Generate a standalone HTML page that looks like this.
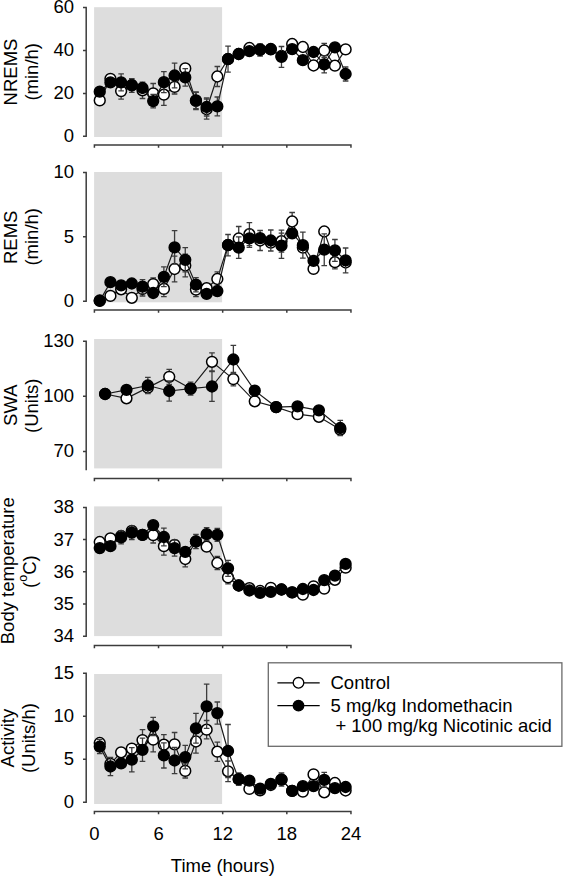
<!DOCTYPE html>
<html><head><meta charset="utf-8"><style>
html,body{margin:0;padding:0;background:#fff;}
svg{display:block;}
.t{font-family:"Liberation Sans",sans-serif;font-size:18.5px;fill:#000;}
</style></head><body>
<svg width="563" height="877" viewBox="0 0 563 877">
<rect x="94.1" y="7.2" width="128" height="129.8" fill="#dddddd"/>
<rect x="94.1" y="172" width="128" height="130.3" fill="#dddddd"/>
<rect x="94.1" y="339" width="128" height="129.4" fill="#dddddd"/>
<rect x="94.1" y="506.4" width="128" height="129.7" fill="#dddddd"/>
<rect x="94.1" y="674" width="128" height="130" fill="#dddddd"/>
<path d="M86.2 7.5V136.3M83 7.5H86.9M83 50.4H86.9M83 93.4H86.9M83 136.3H86.9" stroke="#3c3c3c" stroke-width="1.5" fill="none"/>
<path d="M94.4 145H350.96M94.4 144.3V147.8M158.54 144.3V147.8M222.68 144.3V147.8M286.82 144.3V147.8M350.96 144.3V147.8" stroke="#3c3c3c" stroke-width="1.5" fill="none"/>
<text x="74.0" y="13.4" text-anchor="end" class="t">60</text>
<text x="74.0" y="56.3" text-anchor="end" class="t">40</text>
<text x="74.0" y="99.3" text-anchor="end" class="t">20</text>
<text x="74.0" y="142.2" text-anchor="end" class="t">0</text>
<text transform="translate(16.7 72) rotate(-90)" text-anchor="middle" class="t">NREMS</text>
<text transform="translate(37.6 71.8) rotate(-90)" text-anchor="middle" class="t">(min/h)</text>
<path d="M86.2 172.4V301.3M83 172.4H86.9M83 236.8H86.9M83 301.3H86.9" stroke="#3c3c3c" stroke-width="1.5" fill="none"/>
<path d="M94.4 309.9H350.96M94.4 309.2V312.7M158.54 309.2V312.7M222.68 309.2V312.7M286.82 309.2V312.7M350.96 309.2V312.7" stroke="#3c3c3c" stroke-width="1.5" fill="none"/>
<text x="74.0" y="178.3" text-anchor="end" class="t">10</text>
<text x="74.0" y="242.7" text-anchor="end" class="t">5</text>
<text x="74.0" y="307.2" text-anchor="end" class="t">0</text>
<text transform="translate(16.8 237.3) rotate(-90)" text-anchor="middle" class="t">REMS</text>
<text transform="translate(37.6 236.8) rotate(-90)" text-anchor="middle" class="t">(min/h)</text>
<path d="M86.2 341.2V470.3M83 341.2H86.9M83 396.3H86.9M83 451.4H86.9" stroke="#3c3c3c" stroke-width="1.5" fill="none"/>
<path d="M94.4 478.4H350.96M94.4 477.7V481.2M158.54 477.7V481.2M222.68 477.7V481.2M286.82 477.7V481.2M350.96 477.7V481.2" stroke="#3c3c3c" stroke-width="1.5" fill="none"/>
<text x="74.0" y="347.1" text-anchor="end" class="t">130</text>
<text x="74.0" y="402.2" text-anchor="end" class="t">100</text>
<text x="74.0" y="457.3" text-anchor="end" class="t">70</text>
<text transform="translate(17.2 405.2) rotate(-90)" text-anchor="middle" class="t">SWA</text>
<text transform="translate(38.2 405.8) rotate(-90)" text-anchor="middle" class="t">(Units)</text>
<path d="M86.2 507.4V636.3M83 507.4H86.9M83 539.6H86.9M83 571.8H86.9M83 604H86.9M83 636.3H86.9" stroke="#3c3c3c" stroke-width="1.5" fill="none"/>
<path d="M94.4 645.4H350.96M94.4 644.7V648.2M158.54 644.7V648.2M222.68 644.7V648.2M286.82 644.7V648.2M350.96 644.7V648.2" stroke="#3c3c3c" stroke-width="1.5" fill="none"/>
<text x="74.0" y="513.3" text-anchor="end" class="t">38</text>
<text x="74.0" y="545.5" text-anchor="end" class="t">37</text>
<text x="74.0" y="577.7" text-anchor="end" class="t">36</text>
<text x="74.0" y="609.9" text-anchor="end" class="t">35</text>
<text x="74.0" y="642.2" text-anchor="end" class="t">34</text>
<text transform="translate(13.6 570.7) rotate(-90)" text-anchor="middle" class="t">Body temperature</text>
<text transform="translate(36.2 571.6) rotate(-90)" text-anchor="middle" class="t">(<tspan font-size="12.5" dy="-9">o</tspan><tspan dy="9">C)</tspan></text>
<path d="M86.2 673.3V802.3M83 673.3H86.9M83 716.3H86.9M83 759.3H86.9M83 802.3H86.9" stroke="#3c3c3c" stroke-width="1.5" fill="none"/>
<path d="M94.4 811.4H350.96M94.4 810.7V814.2M158.54 810.7V814.2M222.68 810.7V814.2M286.82 810.7V814.2M350.96 810.7V814.2" stroke="#3c3c3c" stroke-width="1.5" fill="none"/>
<text x="74.0" y="679.2" text-anchor="end" class="t">15</text>
<text x="74.0" y="722.2" text-anchor="end" class="t">10</text>
<text x="74.0" y="765.2" text-anchor="end" class="t">5</text>
<text x="74.0" y="808.2" text-anchor="end" class="t">0</text>
<text transform="translate(14.2 738.1) rotate(-90)" text-anchor="middle" class="t">Activity</text>
<text transform="translate(34.7 738.1) rotate(-90)" text-anchor="middle" class="t">(Units/h)</text>
<polyline points="99.75,100.4 110.44,78.8 121.12,91.1 131.81,85 142.5,90.3 153.19,93.4 163.88,94.7 174.57,86.9 185.26,68.4 195.95,101 206.64,109.2 217.33,76.5 228.03,59 238.72,54 249.41,48 260.1,50 270.78,49 281.48,56 292.16,44 302.86,47 313.54,65.5 324.24,50.5 334.92,65.7 345.62,49.4" fill="none" stroke="#1a1a1a" stroke-width="1.2"/>
<path d="M121.12 83.1V99.1M118.33 83.1H123.92M118.33 99.1H123.92M142.5 82.1V98.5M139.7 82.1H145.31M139.7 98.5H145.31M153.19 83.5V103.3M150.39 83.5H156M150.39 103.3H156M163.88 84V105.4M161.08 84H166.69M161.08 105.4H166.69M174.57 79.8V94M171.77 79.8H177.38M171.77 94H177.38M195.95 92.3V109.7M193.15 92.3H198.75M193.15 109.7H198.75M206.64 99.2V119.2M203.84 99.2H209.44M203.84 119.2H209.44M217.33 66.5V86.5M214.53 66.5H220.13M214.53 86.5H220.13M260.1 44V56M257.3 44H262.9M257.3 56H262.9M324.24 43.4V57.6M321.44 43.4H327.04M321.44 57.6H327.04" stroke="#3c3c3c" stroke-width="1.3" fill="none"/>
<circle cx="99.75" cy="100.4" r="5.4" fill="#fff" stroke="#000" stroke-width="1.5"/>
<circle cx="110.44" cy="78.8" r="5.4" fill="#fff" stroke="#000" stroke-width="1.5"/>
<circle cx="121.12" cy="91.1" r="5.4" fill="#fff" stroke="#000" stroke-width="1.5"/>
<circle cx="131.81" cy="85" r="5.4" fill="#fff" stroke="#000" stroke-width="1.5"/>
<circle cx="142.5" cy="90.3" r="5.4" fill="#fff" stroke="#000" stroke-width="1.5"/>
<circle cx="153.19" cy="93.4" r="5.4" fill="#fff" stroke="#000" stroke-width="1.5"/>
<circle cx="163.88" cy="94.7" r="5.4" fill="#fff" stroke="#000" stroke-width="1.5"/>
<circle cx="174.57" cy="86.9" r="5.4" fill="#fff" stroke="#000" stroke-width="1.5"/>
<circle cx="185.26" cy="68.4" r="5.4" fill="#fff" stroke="#000" stroke-width="1.5"/>
<circle cx="195.95" cy="101" r="5.4" fill="#fff" stroke="#000" stroke-width="1.5"/>
<circle cx="206.64" cy="109.2" r="5.4" fill="#fff" stroke="#000" stroke-width="1.5"/>
<circle cx="217.33" cy="76.5" r="5.4" fill="#fff" stroke="#000" stroke-width="1.5"/>
<circle cx="228.03" cy="59" r="5.4" fill="#fff" stroke="#000" stroke-width="1.5"/>
<circle cx="238.72" cy="54" r="5.4" fill="#fff" stroke="#000" stroke-width="1.5"/>
<circle cx="249.41" cy="48" r="5.4" fill="#fff" stroke="#000" stroke-width="1.5"/>
<circle cx="260.1" cy="50" r="5.4" fill="#fff" stroke="#000" stroke-width="1.5"/>
<circle cx="270.78" cy="49" r="5.4" fill="#fff" stroke="#000" stroke-width="1.5"/>
<circle cx="281.48" cy="56" r="5.4" fill="#fff" stroke="#000" stroke-width="1.5"/>
<circle cx="292.16" cy="44" r="5.4" fill="#fff" stroke="#000" stroke-width="1.5"/>
<circle cx="302.86" cy="47" r="5.4" fill="#fff" stroke="#000" stroke-width="1.5"/>
<circle cx="313.54" cy="65.5" r="5.4" fill="#fff" stroke="#000" stroke-width="1.5"/>
<circle cx="324.24" cy="50.5" r="5.4" fill="#fff" stroke="#000" stroke-width="1.5"/>
<circle cx="334.92" cy="65.7" r="5.4" fill="#fff" stroke="#000" stroke-width="1.5"/>
<circle cx="345.62" cy="49.4" r="5.4" fill="#fff" stroke="#000" stroke-width="1.5"/>
<polyline points="99.75,91.7 110.44,82.4 121.12,82.4 131.81,85.5 142.5,88 153.19,101.1 163.88,82.2 174.57,75.5 185.26,77.4 195.95,100.3 206.64,107 217.33,106.4 228.03,59.2 238.72,54 249.41,51.2 260.1,49.4 270.78,49.4 281.48,56.9 292.16,49.1 302.86,60.2 313.54,52 324.24,64.3 334.92,47.3 345.62,74" fill="none" stroke="#1a1a1a" stroke-width="1.2"/>
<path d="M121.12 73.9V90.9M118.33 73.9H123.92M118.33 90.9H123.92M131.81 78.7V92.3M129.01 78.7H134.62M129.01 92.3H134.62M153.19 94.4V107.8M150.39 94.4H156M150.39 107.8H156M163.88 71.7V92.7M161.08 71.7H166.69M161.08 92.7H166.69M174.57 63.2V87.8M171.77 63.2H177.38M171.77 87.8H177.38M185.26 68.6V86.2M182.46 68.6H188.06M182.46 86.2H188.06M195.95 92V108.6M193.15 92H198.75M193.15 108.6H198.75M206.64 98V116M203.84 98H209.44M203.84 116H209.44M217.33 97V115.8M214.53 97H220.13M214.53 115.8H220.13M228.03 46.2V72.2M225.22 46.2H230.83M225.22 72.2H230.83M281.48 46.5V67.3M278.68 46.5H284.28M278.68 67.3H284.28M324.24 55.8V72.8M321.44 55.8H327.04M321.44 72.8H327.04M345.62 67V81M342.81 67H348.42M342.81 81H348.42" stroke="#3c3c3c" stroke-width="1.3" fill="none"/>
<circle cx="99.75" cy="91.7" r="5.4" fill="#000" stroke="#000" stroke-width="1.5"/>
<circle cx="110.44" cy="82.4" r="5.4" fill="#000" stroke="#000" stroke-width="1.5"/>
<circle cx="121.12" cy="82.4" r="5.4" fill="#000" stroke="#000" stroke-width="1.5"/>
<circle cx="131.81" cy="85.5" r="5.4" fill="#000" stroke="#000" stroke-width="1.5"/>
<circle cx="142.5" cy="88" r="5.4" fill="#000" stroke="#000" stroke-width="1.5"/>
<circle cx="153.19" cy="101.1" r="5.4" fill="#000" stroke="#000" stroke-width="1.5"/>
<circle cx="163.88" cy="82.2" r="5.4" fill="#000" stroke="#000" stroke-width="1.5"/>
<circle cx="174.57" cy="75.5" r="5.4" fill="#000" stroke="#000" stroke-width="1.5"/>
<circle cx="185.26" cy="77.4" r="5.4" fill="#000" stroke="#000" stroke-width="1.5"/>
<circle cx="195.95" cy="100.3" r="5.4" fill="#000" stroke="#000" stroke-width="1.5"/>
<circle cx="206.64" cy="107" r="5.4" fill="#000" stroke="#000" stroke-width="1.5"/>
<circle cx="217.33" cy="106.4" r="5.4" fill="#000" stroke="#000" stroke-width="1.5"/>
<circle cx="228.03" cy="59.2" r="5.4" fill="#000" stroke="#000" stroke-width="1.5"/>
<circle cx="238.72" cy="54" r="5.4" fill="#000" stroke="#000" stroke-width="1.5"/>
<circle cx="249.41" cy="51.2" r="5.4" fill="#000" stroke="#000" stroke-width="1.5"/>
<circle cx="260.1" cy="49.4" r="5.4" fill="#000" stroke="#000" stroke-width="1.5"/>
<circle cx="270.78" cy="49.4" r="5.4" fill="#000" stroke="#000" stroke-width="1.5"/>
<circle cx="281.48" cy="56.9" r="5.4" fill="#000" stroke="#000" stroke-width="1.5"/>
<circle cx="292.16" cy="49.1" r="5.4" fill="#000" stroke="#000" stroke-width="1.5"/>
<circle cx="302.86" cy="60.2" r="5.4" fill="#000" stroke="#000" stroke-width="1.5"/>
<circle cx="313.54" cy="52" r="5.4" fill="#000" stroke="#000" stroke-width="1.5"/>
<circle cx="324.24" cy="64.3" r="5.4" fill="#000" stroke="#000" stroke-width="1.5"/>
<circle cx="334.92" cy="47.3" r="5.4" fill="#000" stroke="#000" stroke-width="1.5"/>
<circle cx="345.62" cy="74" r="5.4" fill="#000" stroke="#000" stroke-width="1.5"/>
<polyline points="99.75,300.5 110.44,295.9 121.12,289.3 131.81,297.8 142.5,289 153.19,284.1 163.88,288.9 174.57,269 185.26,265.5 195.95,289.6 206.64,288.2 217.33,279 228.03,245 238.72,238.5 249.41,234.2 260.1,240.5 270.78,242.6 281.48,241.2 292.16,221.5 302.86,247.6 313.54,268.9 324.24,231.5 334.92,262.2 345.62,262.5" fill="none" stroke="#1a1a1a" stroke-width="1.2"/>
<path d="M142.5 282V296M139.7 282H145.31M139.7 296H145.31M153.19 277.8V290.4M150.39 277.8H156M150.39 290.4H156M163.88 281.1V296.7M161.08 281.1H166.69M161.08 296.7H166.69M174.57 256.2V281.8M171.77 256.2H177.38M171.77 281.8H177.38M185.26 254.1V276.9M182.46 254.1H188.06M182.46 276.9H188.06M195.95 282.5V296.7M193.15 282.5H198.75M193.15 296.7H198.75M217.33 271.9V286.1M214.53 271.9H220.13M214.53 286.1H220.13M238.72 226.5V250.5M235.91 226.5H241.52M235.91 250.5H241.52M249.41 222.7V245.7M246.6 222.7H252.21M246.6 245.7H252.21M260.1 230.5V250.5M257.3 230.5H262.9M257.3 250.5H262.9M281.48 230.2V252.2M278.68 230.2H284.28M278.68 252.2H284.28M292.16 212.5V230.5M289.36 212.5H294.96M289.36 230.5H294.96M334.92 255.5V268.9M332.12 255.5H337.72M332.12 268.9H337.72" stroke="#3c3c3c" stroke-width="1.3" fill="none"/>
<circle cx="99.75" cy="300.5" r="5.4" fill="#fff" stroke="#000" stroke-width="1.5"/>
<circle cx="110.44" cy="295.9" r="5.4" fill="#fff" stroke="#000" stroke-width="1.5"/>
<circle cx="121.12" cy="289.3" r="5.4" fill="#fff" stroke="#000" stroke-width="1.5"/>
<circle cx="131.81" cy="297.8" r="5.4" fill="#fff" stroke="#000" stroke-width="1.5"/>
<circle cx="142.5" cy="289" r="5.4" fill="#fff" stroke="#000" stroke-width="1.5"/>
<circle cx="153.19" cy="284.1" r="5.4" fill="#fff" stroke="#000" stroke-width="1.5"/>
<circle cx="163.88" cy="288.9" r="5.4" fill="#fff" stroke="#000" stroke-width="1.5"/>
<circle cx="174.57" cy="269" r="5.4" fill="#fff" stroke="#000" stroke-width="1.5"/>
<circle cx="185.26" cy="265.5" r="5.4" fill="#fff" stroke="#000" stroke-width="1.5"/>
<circle cx="195.95" cy="289.6" r="5.4" fill="#fff" stroke="#000" stroke-width="1.5"/>
<circle cx="206.64" cy="288.2" r="5.4" fill="#fff" stroke="#000" stroke-width="1.5"/>
<circle cx="217.33" cy="279" r="5.4" fill="#fff" stroke="#000" stroke-width="1.5"/>
<circle cx="228.03" cy="245" r="5.4" fill="#fff" stroke="#000" stroke-width="1.5"/>
<circle cx="238.72" cy="238.5" r="5.4" fill="#fff" stroke="#000" stroke-width="1.5"/>
<circle cx="249.41" cy="234.2" r="5.4" fill="#fff" stroke="#000" stroke-width="1.5"/>
<circle cx="260.1" cy="240.5" r="5.4" fill="#fff" stroke="#000" stroke-width="1.5"/>
<circle cx="270.78" cy="242.6" r="5.4" fill="#fff" stroke="#000" stroke-width="1.5"/>
<circle cx="281.48" cy="241.2" r="5.4" fill="#fff" stroke="#000" stroke-width="1.5"/>
<circle cx="292.16" cy="221.5" r="5.4" fill="#fff" stroke="#000" stroke-width="1.5"/>
<circle cx="302.86" cy="247.6" r="5.4" fill="#fff" stroke="#000" stroke-width="1.5"/>
<circle cx="313.54" cy="268.9" r="5.4" fill="#fff" stroke="#000" stroke-width="1.5"/>
<circle cx="324.24" cy="231.5" r="5.4" fill="#fff" stroke="#000" stroke-width="1.5"/>
<circle cx="334.92" cy="262.2" r="5.4" fill="#fff" stroke="#000" stroke-width="1.5"/>
<circle cx="345.62" cy="262.5" r="5.4" fill="#fff" stroke="#000" stroke-width="1.5"/>
<polyline points="99.75,300.9 110.44,282.2 121.12,285.3 131.81,283.5 142.5,286.6 153.19,293 163.88,276.8 174.57,247.4 185.26,259.8 195.95,284.7 206.64,293.9 217.33,291.1 228.03,245.2 238.72,247.6 249.41,238.4 260.1,238.1 270.78,240.5 281.48,245.7 292.16,233.4 302.86,245.2 313.54,260.8 324.24,249.7 334.92,250.4 345.62,260.4" fill="none" stroke="#1a1a1a" stroke-width="1.2"/>
<path d="M142.5 279.6V293.6M139.7 279.6H145.31M139.7 293.6H145.31M163.88 266.9V286.7M161.08 266.9H166.69M161.08 286.7H166.69M174.57 230.7V264.1M171.77 230.7H177.38M171.77 264.1H177.38M185.26 247.7V271.9M182.46 247.7H188.06M182.46 271.9H188.06M195.95 277.6V291.8M193.15 277.6H198.75M193.15 291.8H198.75M228.03 234.5V255.9M225.22 234.5H230.83M225.22 255.9H230.83M238.72 236.9V258.3M235.91 236.9H241.52M235.91 258.3H241.52M249.41 229.4V247.4M246.6 229.4H252.21M246.6 247.4H252.21M270.78 230V251M267.98 230H273.58M267.98 251H273.58M281.48 233.1V258.3M278.68 233.1H284.28M278.68 258.3H284.28M302.86 232.2V258.2M300.06 232.2H305.66M300.06 258.2H305.66M324.24 233.8V265.6M321.44 233.8H327.04M321.44 265.6H327.04M334.92 239.5V261.3M332.12 239.5H337.72M332.12 261.3H337.72M345.62 248V272.8M342.81 248H348.42M342.81 272.8H348.42" stroke="#3c3c3c" stroke-width="1.3" fill="none"/>
<circle cx="99.75" cy="300.9" r="5.4" fill="#000" stroke="#000" stroke-width="1.5"/>
<circle cx="110.44" cy="282.2" r="5.4" fill="#000" stroke="#000" stroke-width="1.5"/>
<circle cx="121.12" cy="285.3" r="5.4" fill="#000" stroke="#000" stroke-width="1.5"/>
<circle cx="131.81" cy="283.5" r="5.4" fill="#000" stroke="#000" stroke-width="1.5"/>
<circle cx="142.5" cy="286.6" r="5.4" fill="#000" stroke="#000" stroke-width="1.5"/>
<circle cx="153.19" cy="293" r="5.4" fill="#000" stroke="#000" stroke-width="1.5"/>
<circle cx="163.88" cy="276.8" r="5.4" fill="#000" stroke="#000" stroke-width="1.5"/>
<circle cx="174.57" cy="247.4" r="5.4" fill="#000" stroke="#000" stroke-width="1.5"/>
<circle cx="185.26" cy="259.8" r="5.4" fill="#000" stroke="#000" stroke-width="1.5"/>
<circle cx="195.95" cy="284.7" r="5.4" fill="#000" stroke="#000" stroke-width="1.5"/>
<circle cx="206.64" cy="293.9" r="5.4" fill="#000" stroke="#000" stroke-width="1.5"/>
<circle cx="217.33" cy="291.1" r="5.4" fill="#000" stroke="#000" stroke-width="1.5"/>
<circle cx="228.03" cy="245.2" r="5.4" fill="#000" stroke="#000" stroke-width="1.5"/>
<circle cx="238.72" cy="247.6" r="5.4" fill="#000" stroke="#000" stroke-width="1.5"/>
<circle cx="249.41" cy="238.4" r="5.4" fill="#000" stroke="#000" stroke-width="1.5"/>
<circle cx="260.1" cy="238.1" r="5.4" fill="#000" stroke="#000" stroke-width="1.5"/>
<circle cx="270.78" cy="240.5" r="5.4" fill="#000" stroke="#000" stroke-width="1.5"/>
<circle cx="281.48" cy="245.7" r="5.4" fill="#000" stroke="#000" stroke-width="1.5"/>
<circle cx="292.16" cy="233.4" r="5.4" fill="#000" stroke="#000" stroke-width="1.5"/>
<circle cx="302.86" cy="245.2" r="5.4" fill="#000" stroke="#000" stroke-width="1.5"/>
<circle cx="313.54" cy="260.8" r="5.4" fill="#000" stroke="#000" stroke-width="1.5"/>
<circle cx="324.24" cy="249.7" r="5.4" fill="#000" stroke="#000" stroke-width="1.5"/>
<circle cx="334.92" cy="250.4" r="5.4" fill="#000" stroke="#000" stroke-width="1.5"/>
<circle cx="345.62" cy="260.4" r="5.4" fill="#000" stroke="#000" stroke-width="1.5"/>
<polyline points="105.09,394 126.47,398.3 147.85,387.6 169.23,376.8 190.61,388.6 211.99,361.8 233.37,379.1 254.75,401.3 276.13,407.1 297.51,414.2 318.89,416.8 340.27,429.6" fill="none" stroke="#1a1a1a" stroke-width="1.2"/>
<path d="M169.23 369.3V384.3M166.43 369.3H172.03M166.43 384.3H172.03M211.99 352.8V370.8M209.19 352.8H214.79M209.19 370.8H214.79M233.37 372.4V385.8M230.57 372.4H236.17M230.57 385.8H236.17" stroke="#3c3c3c" stroke-width="1.3" fill="none"/>
<circle cx="105.09" cy="394" r="5.4" fill="#fff" stroke="#000" stroke-width="1.5"/>
<circle cx="126.47" cy="398.3" r="5.4" fill="#fff" stroke="#000" stroke-width="1.5"/>
<circle cx="147.85" cy="387.6" r="5.4" fill="#fff" stroke="#000" stroke-width="1.5"/>
<circle cx="169.23" cy="376.8" r="5.4" fill="#fff" stroke="#000" stroke-width="1.5"/>
<circle cx="190.61" cy="388.6" r="5.4" fill="#fff" stroke="#000" stroke-width="1.5"/>
<circle cx="211.99" cy="361.8" r="5.4" fill="#fff" stroke="#000" stroke-width="1.5"/>
<circle cx="233.37" cy="379.1" r="5.4" fill="#fff" stroke="#000" stroke-width="1.5"/>
<circle cx="254.75" cy="401.3" r="5.4" fill="#fff" stroke="#000" stroke-width="1.5"/>
<circle cx="276.13" cy="407.1" r="5.4" fill="#fff" stroke="#000" stroke-width="1.5"/>
<circle cx="297.51" cy="414.2" r="5.4" fill="#fff" stroke="#000" stroke-width="1.5"/>
<circle cx="318.89" cy="416.8" r="5.4" fill="#fff" stroke="#000" stroke-width="1.5"/>
<circle cx="340.27" cy="429.6" r="5.4" fill="#fff" stroke="#000" stroke-width="1.5"/>
<polyline points="105.09,394 126.47,389.8 147.85,385.5 169.23,391 190.61,388.6 211.99,386.5 233.37,359.5 254.75,390.7 276.13,407.1 297.51,406.3 318.89,410.3 340.27,428" fill="none" stroke="#1a1a1a" stroke-width="1.2"/>
<path d="M147.85 377.3V393.7M145.05 377.3H150.65M145.05 393.7H150.65M169.23 380.8V401.2M166.43 380.8H172.03M166.43 401.2H172.03M190.61 382.2V395M187.81 382.2H193.41M187.81 395H193.41M211.99 371.6V401.4M209.19 371.6H214.79M209.19 401.4H214.79M233.37 345.3V373.7M230.57 345.3H236.17M230.57 373.7H236.17M340.27 420.3V435.7M337.47 420.3H343.07M337.47 435.7H343.07" stroke="#3c3c3c" stroke-width="1.3" fill="none"/>
<circle cx="105.09" cy="394" r="5.4" fill="#000" stroke="#000" stroke-width="1.5"/>
<circle cx="126.47" cy="389.8" r="5.4" fill="#000" stroke="#000" stroke-width="1.5"/>
<circle cx="147.85" cy="385.5" r="5.4" fill="#000" stroke="#000" stroke-width="1.5"/>
<circle cx="169.23" cy="391" r="5.4" fill="#000" stroke="#000" stroke-width="1.5"/>
<circle cx="190.61" cy="388.6" r="5.4" fill="#000" stroke="#000" stroke-width="1.5"/>
<circle cx="211.99" cy="386.5" r="5.4" fill="#000" stroke="#000" stroke-width="1.5"/>
<circle cx="233.37" cy="359.5" r="5.4" fill="#000" stroke="#000" stroke-width="1.5"/>
<circle cx="254.75" cy="390.7" r="5.4" fill="#000" stroke="#000" stroke-width="1.5"/>
<circle cx="276.13" cy="407.1" r="5.4" fill="#000" stroke="#000" stroke-width="1.5"/>
<circle cx="297.51" cy="406.3" r="5.4" fill="#000" stroke="#000" stroke-width="1.5"/>
<circle cx="318.89" cy="410.3" r="5.4" fill="#000" stroke="#000" stroke-width="1.5"/>
<circle cx="340.27" cy="428" r="5.4" fill="#000" stroke="#000" stroke-width="1.5"/>
<polyline points="99.75,542 110.44,538.4 121.12,536 131.81,530.9 142.5,534.9 153.19,535.1 163.88,546.2 174.57,544.9 185.26,559 195.95,541.5 206.64,546.7 217.33,563 228.03,577.4 238.72,585.5 249.41,588.2 260.1,591 270.78,587.8 281.48,589.5 292.16,592.4 302.86,594.7 313.54,586.3 324.24,588.6 334.92,579.8 345.62,567.7" fill="none" stroke="#1a1a1a" stroke-width="1.2"/>
<path d="M153.19 527.2V543M150.39 527.2H156M150.39 543H156M163.88 537.2V555.2M161.08 537.2H166.69M161.08 555.2H166.69M185.26 551.2V566.8M182.46 551.2H188.06M182.46 566.8H188.06M217.33 556.3V569.7M214.53 556.3H220.13M214.53 569.7H220.13M228.03 571V583.8M225.22 571H230.83M225.22 583.8H230.83" stroke="#3c3c3c" stroke-width="1.3" fill="none"/>
<circle cx="99.75" cy="542" r="5.4" fill="#fff" stroke="#000" stroke-width="1.5"/>
<circle cx="110.44" cy="538.4" r="5.4" fill="#fff" stroke="#000" stroke-width="1.5"/>
<circle cx="121.12" cy="536" r="5.4" fill="#fff" stroke="#000" stroke-width="1.5"/>
<circle cx="131.81" cy="530.9" r="5.4" fill="#fff" stroke="#000" stroke-width="1.5"/>
<circle cx="142.5" cy="534.9" r="5.4" fill="#fff" stroke="#000" stroke-width="1.5"/>
<circle cx="153.19" cy="535.1" r="5.4" fill="#fff" stroke="#000" stroke-width="1.5"/>
<circle cx="163.88" cy="546.2" r="5.4" fill="#fff" stroke="#000" stroke-width="1.5"/>
<circle cx="174.57" cy="544.9" r="5.4" fill="#fff" stroke="#000" stroke-width="1.5"/>
<circle cx="185.26" cy="559" r="5.4" fill="#fff" stroke="#000" stroke-width="1.5"/>
<circle cx="195.95" cy="541.5" r="5.4" fill="#fff" stroke="#000" stroke-width="1.5"/>
<circle cx="206.64" cy="546.7" r="5.4" fill="#fff" stroke="#000" stroke-width="1.5"/>
<circle cx="217.33" cy="563" r="5.4" fill="#fff" stroke="#000" stroke-width="1.5"/>
<circle cx="228.03" cy="577.4" r="5.4" fill="#fff" stroke="#000" stroke-width="1.5"/>
<circle cx="238.72" cy="585.5" r="5.4" fill="#fff" stroke="#000" stroke-width="1.5"/>
<circle cx="249.41" cy="588.2" r="5.4" fill="#fff" stroke="#000" stroke-width="1.5"/>
<circle cx="260.1" cy="591" r="5.4" fill="#fff" stroke="#000" stroke-width="1.5"/>
<circle cx="270.78" cy="587.8" r="5.4" fill="#fff" stroke="#000" stroke-width="1.5"/>
<circle cx="281.48" cy="589.5" r="5.4" fill="#fff" stroke="#000" stroke-width="1.5"/>
<circle cx="292.16" cy="592.4" r="5.4" fill="#fff" stroke="#000" stroke-width="1.5"/>
<circle cx="302.86" cy="594.7" r="5.4" fill="#fff" stroke="#000" stroke-width="1.5"/>
<circle cx="313.54" cy="586.3" r="5.4" fill="#fff" stroke="#000" stroke-width="1.5"/>
<circle cx="324.24" cy="588.6" r="5.4" fill="#fff" stroke="#000" stroke-width="1.5"/>
<circle cx="334.92" cy="579.8" r="5.4" fill="#fff" stroke="#000" stroke-width="1.5"/>
<circle cx="345.62" cy="567.7" r="5.4" fill="#fff" stroke="#000" stroke-width="1.5"/>
<polyline points="99.75,548.1 110.44,546.2 121.12,537.3 131.81,532.7 142.5,534.9 153.19,525.1 163.88,537 174.57,548.1 185.26,551.9 195.95,541.5 206.64,534.2 217.33,534.9 228.03,568.3 238.72,585.5 249.41,590.5 260.1,592.9 270.78,591.9 281.48,589.5 292.16,592.4 302.86,589 313.54,590 324.24,580.1 334.92,575.6 345.62,563.9" fill="none" stroke="#1a1a1a" stroke-width="1.2"/>
<path d="M121.12 530.8V543.8M118.33 530.8H123.92M118.33 543.8H123.92M131.81 525.9V539.5M129.01 525.9H134.62M129.01 539.5H134.62M163.88 528.1V545.9M161.08 528.1H166.69M161.08 545.9H166.69M174.57 540V556.2M171.77 540H177.38M171.77 556.2H177.38M195.95 534.3V548.7M193.15 534.3H198.75M193.15 548.7H198.75M206.64 527.7V540.7M203.84 527.7H209.44M203.84 540.7H209.44M217.33 528.5V541.3M214.53 528.5H220.13M214.53 541.3H220.13M228.03 560.3V576.3M225.22 560.3H230.83M225.22 576.3H230.83" stroke="#3c3c3c" stroke-width="1.3" fill="none"/>
<circle cx="99.75" cy="548.1" r="5.4" fill="#000" stroke="#000" stroke-width="1.5"/>
<circle cx="110.44" cy="546.2" r="5.4" fill="#000" stroke="#000" stroke-width="1.5"/>
<circle cx="121.12" cy="537.3" r="5.4" fill="#000" stroke="#000" stroke-width="1.5"/>
<circle cx="131.81" cy="532.7" r="5.4" fill="#000" stroke="#000" stroke-width="1.5"/>
<circle cx="142.5" cy="534.9" r="5.4" fill="#000" stroke="#000" stroke-width="1.5"/>
<circle cx="153.19" cy="525.1" r="5.4" fill="#000" stroke="#000" stroke-width="1.5"/>
<circle cx="163.88" cy="537" r="5.4" fill="#000" stroke="#000" stroke-width="1.5"/>
<circle cx="174.57" cy="548.1" r="5.4" fill="#000" stroke="#000" stroke-width="1.5"/>
<circle cx="185.26" cy="551.9" r="5.4" fill="#000" stroke="#000" stroke-width="1.5"/>
<circle cx="195.95" cy="541.5" r="5.4" fill="#000" stroke="#000" stroke-width="1.5"/>
<circle cx="206.64" cy="534.2" r="5.4" fill="#000" stroke="#000" stroke-width="1.5"/>
<circle cx="217.33" cy="534.9" r="5.4" fill="#000" stroke="#000" stroke-width="1.5"/>
<circle cx="228.03" cy="568.3" r="5.4" fill="#000" stroke="#000" stroke-width="1.5"/>
<circle cx="238.72" cy="585.5" r="5.4" fill="#000" stroke="#000" stroke-width="1.5"/>
<circle cx="249.41" cy="590.5" r="5.4" fill="#000" stroke="#000" stroke-width="1.5"/>
<circle cx="260.1" cy="592.9" r="5.4" fill="#000" stroke="#000" stroke-width="1.5"/>
<circle cx="270.78" cy="591.9" r="5.4" fill="#000" stroke="#000" stroke-width="1.5"/>
<circle cx="281.48" cy="589.5" r="5.4" fill="#000" stroke="#000" stroke-width="1.5"/>
<circle cx="292.16" cy="592.4" r="5.4" fill="#000" stroke="#000" stroke-width="1.5"/>
<circle cx="302.86" cy="589" r="5.4" fill="#000" stroke="#000" stroke-width="1.5"/>
<circle cx="313.54" cy="590" r="5.4" fill="#000" stroke="#000" stroke-width="1.5"/>
<circle cx="324.24" cy="580.1" r="5.4" fill="#000" stroke="#000" stroke-width="1.5"/>
<circle cx="334.92" cy="575.6" r="5.4" fill="#000" stroke="#000" stroke-width="1.5"/>
<circle cx="345.62" cy="563.9" r="5.4" fill="#000" stroke="#000" stroke-width="1.5"/>
<polyline points="99.75,743 110.44,763.8 121.12,752.3 131.81,748.6 142.5,740.1 153.19,739.7 163.88,744.7 174.57,744.3 185.26,770.9 195.95,741.5 206.64,729.7 217.33,751.7 228.03,771.3 238.72,779.2 249.41,788.9 260.1,790.3 270.78,785 281.48,779.6 292.16,790.9 302.86,791.6 313.54,774.4 324.24,792.3 334.92,783 345.62,790.5" fill="none" stroke="#1a1a1a" stroke-width="1.2"/>
<path d="M142.5 729.6V750.6M139.7 729.6H145.31M139.7 750.6H145.31M153.19 727.6V751.8M150.39 727.6H156M150.39 751.8H156M163.88 734.7V754.7M161.08 734.7H166.69M161.08 754.7H166.69M174.57 732.5V756.1M171.77 732.5H177.38M171.77 756.1H177.38M185.26 763.8V778M182.46 763.8H188.06M182.46 778H188.06M195.95 729.9V753.1M193.15 729.9H198.75M193.15 753.1H198.75M206.64 720.5V738.9M203.84 720.5H209.44M203.84 738.9H209.44M217.33 742.1V761.3M214.53 742.1H220.13M214.53 761.3H220.13M228.03 761V781.6M225.22 761H230.83M225.22 781.6H230.83" stroke="#3c3c3c" stroke-width="1.3" fill="none"/>
<circle cx="99.75" cy="743" r="5.4" fill="#fff" stroke="#000" stroke-width="1.5"/>
<circle cx="110.44" cy="763.8" r="5.4" fill="#fff" stroke="#000" stroke-width="1.5"/>
<circle cx="121.12" cy="752.3" r="5.4" fill="#fff" stroke="#000" stroke-width="1.5"/>
<circle cx="131.81" cy="748.6" r="5.4" fill="#fff" stroke="#000" stroke-width="1.5"/>
<circle cx="142.5" cy="740.1" r="5.4" fill="#fff" stroke="#000" stroke-width="1.5"/>
<circle cx="153.19" cy="739.7" r="5.4" fill="#fff" stroke="#000" stroke-width="1.5"/>
<circle cx="163.88" cy="744.7" r="5.4" fill="#fff" stroke="#000" stroke-width="1.5"/>
<circle cx="174.57" cy="744.3" r="5.4" fill="#fff" stroke="#000" stroke-width="1.5"/>
<circle cx="185.26" cy="770.9" r="5.4" fill="#fff" stroke="#000" stroke-width="1.5"/>
<circle cx="195.95" cy="741.5" r="5.4" fill="#fff" stroke="#000" stroke-width="1.5"/>
<circle cx="206.64" cy="729.7" r="5.4" fill="#fff" stroke="#000" stroke-width="1.5"/>
<circle cx="217.33" cy="751.7" r="5.4" fill="#fff" stroke="#000" stroke-width="1.5"/>
<circle cx="228.03" cy="771.3" r="5.4" fill="#fff" stroke="#000" stroke-width="1.5"/>
<circle cx="238.72" cy="779.2" r="5.4" fill="#fff" stroke="#000" stroke-width="1.5"/>
<circle cx="249.41" cy="788.9" r="5.4" fill="#fff" stroke="#000" stroke-width="1.5"/>
<circle cx="260.1" cy="790.3" r="5.4" fill="#fff" stroke="#000" stroke-width="1.5"/>
<circle cx="270.78" cy="785" r="5.4" fill="#fff" stroke="#000" stroke-width="1.5"/>
<circle cx="281.48" cy="779.6" r="5.4" fill="#fff" stroke="#000" stroke-width="1.5"/>
<circle cx="292.16" cy="790.9" r="5.4" fill="#fff" stroke="#000" stroke-width="1.5"/>
<circle cx="302.86" cy="791.6" r="5.4" fill="#fff" stroke="#000" stroke-width="1.5"/>
<circle cx="313.54" cy="774.4" r="5.4" fill="#fff" stroke="#000" stroke-width="1.5"/>
<circle cx="324.24" cy="792.3" r="5.4" fill="#fff" stroke="#000" stroke-width="1.5"/>
<circle cx="334.92" cy="783" r="5.4" fill="#fff" stroke="#000" stroke-width="1.5"/>
<circle cx="345.62" cy="790.5" r="5.4" fill="#fff" stroke="#000" stroke-width="1.5"/>
<polyline points="99.75,746.6 110.44,766.5 121.12,763.3 131.81,759.7 142.5,749.8 153.19,726.4 163.88,755.4 174.57,760.5 185.26,757.1 195.95,728.3 206.64,706.3 217.33,713.1 228.03,751 238.72,779.2 249.41,780.6 260.1,788.6 270.78,783.9 281.48,779.6 292.16,790.9 302.86,786.2 313.54,786.2 324.24,779.8 334.92,788.1 345.62,787" fill="none" stroke="#1a1a1a" stroke-width="1.2"/>
<path d="M99.75 739.6V753.6M96.95 739.6H102.55M96.95 753.6H102.55M110.44 757.4V775.6M107.64 757.4H113.23M107.64 775.6H113.23M131.81 747.6V771.8M129.01 747.6H134.62M129.01 771.8H134.62M142.5 738.2V761.4M139.7 738.2H145.31M139.7 761.4H145.31M153.19 717.3V735.5M150.39 717.3H156M150.39 735.5H156M163.88 742.8V768M161.08 742.8H166.69M161.08 768H166.69M174.57 747.3V773.7M171.77 747.3H177.38M171.77 773.7H177.38M185.26 745.3V768.9M182.46 745.3H188.06M182.46 768.9H188.06M195.95 713.4V743.2M193.15 713.4H198.75M193.15 743.2H198.75M206.64 684.2V728.4M203.84 684.2H209.44M203.84 728.4H209.44M217.33 702V724.2M214.53 702H220.13M214.53 724.2H220.13M228.03 724.5V777.5M225.22 724.5H230.83M225.22 777.5H230.83M238.72 773V785.4M235.91 773H241.52M235.91 785.4H241.52M281.48 773V786.2M278.68 773H284.28M278.68 786.2H284.28M324.24 772.4V787.2M321.44 772.4H327.04M321.44 787.2H327.04" stroke="#3c3c3c" stroke-width="1.3" fill="none"/>
<circle cx="99.75" cy="746.6" r="5.4" fill="#000" stroke="#000" stroke-width="1.5"/>
<circle cx="110.44" cy="766.5" r="5.4" fill="#000" stroke="#000" stroke-width="1.5"/>
<circle cx="121.12" cy="763.3" r="5.4" fill="#000" stroke="#000" stroke-width="1.5"/>
<circle cx="131.81" cy="759.7" r="5.4" fill="#000" stroke="#000" stroke-width="1.5"/>
<circle cx="142.5" cy="749.8" r="5.4" fill="#000" stroke="#000" stroke-width="1.5"/>
<circle cx="153.19" cy="726.4" r="5.4" fill="#000" stroke="#000" stroke-width="1.5"/>
<circle cx="163.88" cy="755.4" r="5.4" fill="#000" stroke="#000" stroke-width="1.5"/>
<circle cx="174.57" cy="760.5" r="5.4" fill="#000" stroke="#000" stroke-width="1.5"/>
<circle cx="185.26" cy="757.1" r="5.4" fill="#000" stroke="#000" stroke-width="1.5"/>
<circle cx="195.95" cy="728.3" r="5.4" fill="#000" stroke="#000" stroke-width="1.5"/>
<circle cx="206.64" cy="706.3" r="5.4" fill="#000" stroke="#000" stroke-width="1.5"/>
<circle cx="217.33" cy="713.1" r="5.4" fill="#000" stroke="#000" stroke-width="1.5"/>
<circle cx="228.03" cy="751" r="5.4" fill="#000" stroke="#000" stroke-width="1.5"/>
<circle cx="238.72" cy="779.2" r="5.4" fill="#000" stroke="#000" stroke-width="1.5"/>
<circle cx="249.41" cy="780.6" r="5.4" fill="#000" stroke="#000" stroke-width="1.5"/>
<circle cx="260.1" cy="788.6" r="5.4" fill="#000" stroke="#000" stroke-width="1.5"/>
<circle cx="270.78" cy="783.9" r="5.4" fill="#000" stroke="#000" stroke-width="1.5"/>
<circle cx="281.48" cy="779.6" r="5.4" fill="#000" stroke="#000" stroke-width="1.5"/>
<circle cx="292.16" cy="790.9" r="5.4" fill="#000" stroke="#000" stroke-width="1.5"/>
<circle cx="302.86" cy="786.2" r="5.4" fill="#000" stroke="#000" stroke-width="1.5"/>
<circle cx="313.54" cy="786.2" r="5.4" fill="#000" stroke="#000" stroke-width="1.5"/>
<circle cx="324.24" cy="779.8" r="5.4" fill="#000" stroke="#000" stroke-width="1.5"/>
<circle cx="334.92" cy="788.1" r="5.4" fill="#000" stroke="#000" stroke-width="1.5"/>
<circle cx="345.62" cy="787" r="5.4" fill="#000" stroke="#000" stroke-width="1.5"/>
<text x="94.4" y="839.7" text-anchor="middle" class="t">0</text>
<text x="158.54" y="839.7" text-anchor="middle" class="t">6</text>
<text x="222.68" y="839.7" text-anchor="middle" class="t">12</text>
<text x="286.82" y="839.7" text-anchor="middle" class="t">18</text>
<text x="350.96" y="839.7" text-anchor="middle" class="t">24</text>
<text x="222.9" y="872.3" text-anchor="middle" class="t">Time (hours)</text>
<rect x="268.3" y="662.8" width="293.6" height="83.5" fill="#fff" stroke="#6a6a6a" stroke-width="1.3"/>
<path d="M277.4 682.8H319.7M277.4 705.6H319.7" stroke="#000" stroke-width="1.2"/>
<circle cx="298.5" cy="682.8" r="5.3" fill="#fff" stroke="#000" stroke-width="1.3"/>
<circle cx="298.5" cy="705.6" r="5.3" fill="#000" stroke="#000" stroke-width="1.3"/>
<text x="330.5" y="689" class="t">Control</text>
<text x="330.5" y="711.5" class="t">5 mg/kg Indomethacin</text>
<text x="335.4" y="732.2" class="t">+ 100 mg/kg Nicotinic acid</text>
</svg>
</body></html>
